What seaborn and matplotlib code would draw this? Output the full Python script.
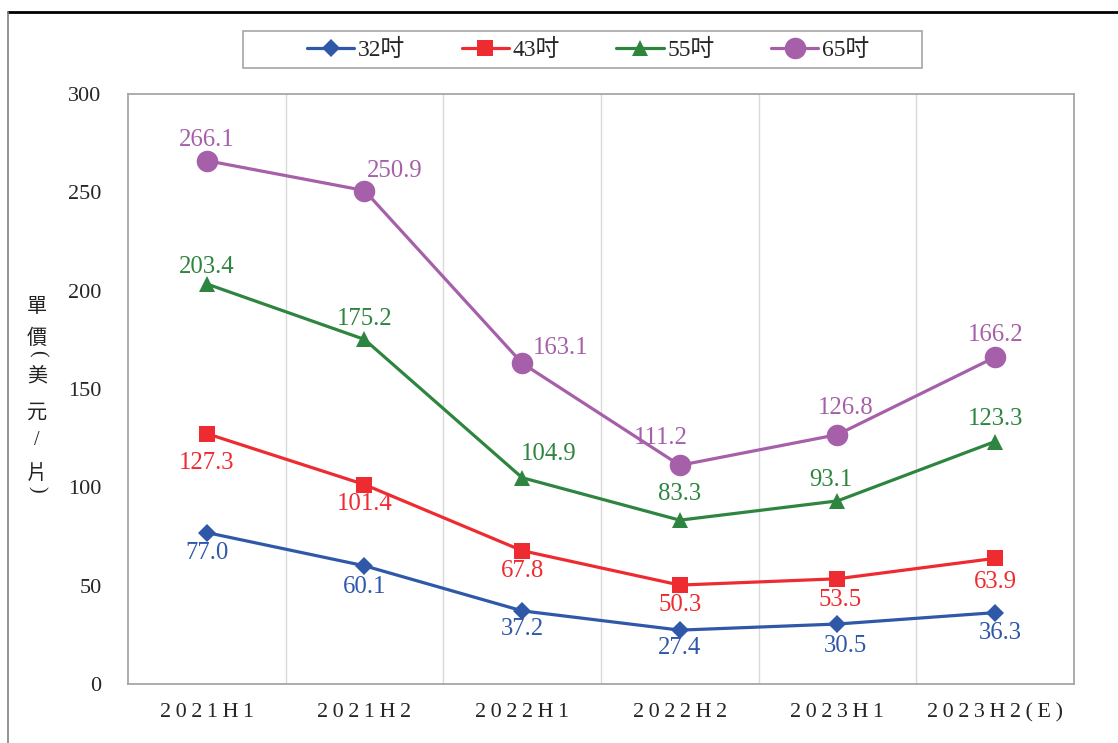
import numpy as np
import pandas as pd
import seaborn as sns
import matplotlib.pyplot as plt
from matplotlib.lines import Line2D
from matplotlib.patches import Rectangle

# data
periods = ['2021H1', '2021H2', '2022H1', '2022H2', '2023H1', '2023H2(E)']
sizes = ['32吋', '43吋', '55吋', '65吋']
price_32 = [77.0, 60.1, 37.2, 27.4, 30.5, 36.3]
price_43 = [127.3, 101.4, 67.8, 50.3, 53.5, 63.9]
price_55 = [203.4, 175.2, 104.9, 83.3, 93.1, 123.3]
price_65 = [266.1, 250.9, 163.1, 111.2, 126.8, 166.2]

colors = ['#2F58A8', '#EE2B30', '#2E8540', '#A660AA']
markers = ['D', 's', '^', 'o']
msizes = [9, 11, 11, 15.5]

# label offsets (points) from each marker
offsets = {
    '32吋': [(0, -15), (0, -15), (0, -13), (0, -13), (6, -16), (4, -15)],
    '43吋': [(0, -21), (0, -14), (0, -15), (0, -14), (2, -15), (0, -17)],
    '55吋': [(0, 12), (0, 15), (19, 17), (0, 19), (-5, 15), (0, 16)],
    '65吋': [(0, 15), (22, 14), (28, 11), (-14, 20), (6, 19), (0, 16)],
}

df = pd.DataFrame({
    'period': periods * 4,
    'size': np.repeat(sizes, len(periods)),
    'price': price_32 + price_43 + price_55 + price_65,
})

serif = ['Liberation Serif', 'Noto Sans CJK TC', 'DejaVu Sans']

sns.set_style('white')
plt.rcParams['font.family'] = serif

fig = plt.figure(figsize=(11.18, 7.43), dpi=100)
ax = fig.add_axes([0.1145, 0.0794, 0.8461, 0.7941])

sns.lineplot(data=df, x='period', y='price', hue='size', style='size',
             palette=colors, markers=markers, dashes=False, ax=ax,
             linewidth=2.3, legend=False, markeredgewidth=0)
for line, ms in zip(ax.lines, msizes):
    line.set_markersize(ms)

# value labels
for s, vals, c in zip(sizes, [price_32, price_43, price_55, price_65], colors):
    for i, v in enumerate(vals):
        dx, dy = offsets[s][i]
        ax.annotate(f'{v:.1f}', xy=(i, v), xytext=(dx, dy), textcoords='offset points',
                    ha='center', va='center', color=c, fontsize=17.8)

ax.set_xlim(-0.5, len(periods) - 0.5)
ax.set_ylim(0, 300)
ax.set_yticks(range(0, 301, 50))
ax.set_xticks(range(len(periods)))
ax.set_xticklabels(['\u2009'.join(p) for p in periods])
ax.set_xticks(np.arange(0.5, len(periods) - 1, 1), minor=True)
ax.grid(axis='x', which='minor', color='#D9D9D9', linewidth=1)
ax.grid(axis='x', which='major', visible=False)
ax.grid(axis='y', visible=False)
ax.tick_params(axis='both', which='both', length=0, labelsize=16)
ax.tick_params(axis='y', pad=19)
ax.tick_params(axis='x', pad=14)
ax.set_xlabel('')
ax.set_ylabel('')
for sp in ax.spines.values():
    sp.set_color('#A6A6A6')
    sp.set_linewidth(1.3)

# vertical y-axis title, one character per line
ytitle = [('單', 307, 0), ('價', 338, 0), ('(', 353, -90), ('美', 376, 0), ('元', 412, 0),
          ('/', 441, 0), ('片', 474, 0), (')', 489, -90)]
for ch, ypx, rot in ytitle:
    fam = serif if ch in '()/' else ['Noto Sans CJK TC', 'DejaVu Sans']
    fig.text(37 / 1118, 1 - ypx / 743, ch, ha='center', va='center', rotation=rot,
             fontsize=14.5, family=fam, color='#222222')

# legend
handles = [Line2D([0], [0], color=c, marker=m, markersize=ms, linewidth=2.3,
                  markeredgewidth=0) for c, m, ms in zip(colors, markers, msizes)]
leg = fig.legend(handles, sizes, loc='center', bbox_to_anchor=(0.526, 0.933), ncol=4,
                 frameon=False, fontsize=17, handlelength=2.0,
                 columnspacing=2.4, handletextpad=0.15, borderpad=0.2)
fig.add_artist(Rectangle((243 / 1118, 1 - 68 / 743), 679 / 1118, 37 / 743,
                         transform=fig.transFigure, fill=False,
                         edgecolor='#A6A6A6', linewidth=1.2))

# figure border (top and left edges)
fig.add_artist(Line2D([0.007, 1], [0.984, 0.984], color='black', linewidth=2, transform=fig.transFigure))
fig.add_artist(Line2D([0.007, 0.007], [0, 0.984], color='#808080', linewidth=1.2, transform=fig.transFigure))

fig.savefig('out.png', dpi=100)
